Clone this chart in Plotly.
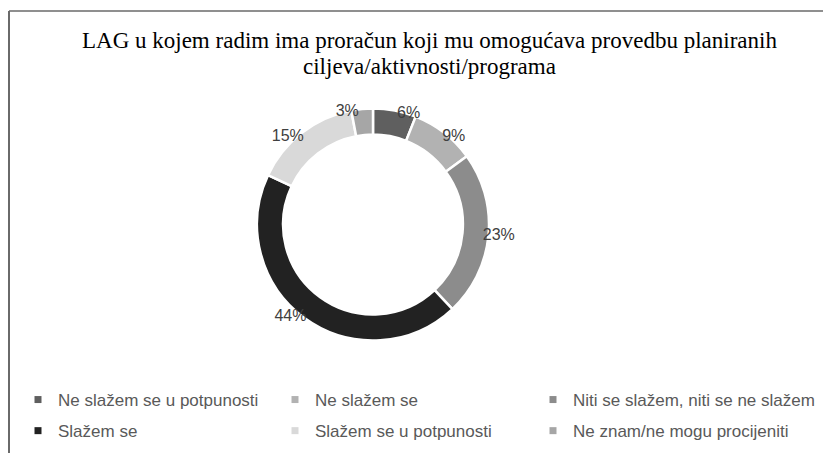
import plotly.graph_objects as go

# Survey answers, in the order they run round the ring (clockwise from the top)
categories = [
    'Ne slažem se u potpunosti',
    'Ne slažem se',
    'Niti se slažem, niti se ne slažem',
    'Slažem se',
    'Slažem se u potpunosti',
    'Ne znam/ne mogu procijeniti',
]
shares = [6, 9, 23, 44, 15, 3]
slice_colors = ['#5f5f5f', '#b2b2b2', '#8c8c8c', '#222222', '#d9d9d9', '#a6a6a6']

title_lines = ['LAG u kojem radim ima proračun koji mu omogućava provedbu planiranih',
               'ciljeva/aktivnosti/programa']

# the html page puts an 8px body margin around the figure, so the figure is
# made 8px smaller and every screen position below is shifted back by 8px
OFF = 8
W, H = 831 - OFF, 453 - OFF


def px(x):
    return (x - OFF) / W


def py(y):
    return 1 - (y - OFF) / H


cx, cy, r = 373, 224.5, 116      # ring centre and outer radius (screen px)
r_text = 106                      # radius of the invisible pie that carries the % labels


def pie_domain(radius):
    return dict(x=[px(cx - radius), px(cx + radius)],
                y=[py(cy + radius), py(cy - radius)])


fig = go.Figure()

# the ring itself
fig.add_trace(go.Pie(
    labels=categories, values=shares, sort=False, direction='clockwise', rotation=0,
    hole=0.775,
    marker=dict(colors=slice_colors, line=dict(color='white', width=2.5)),
    textinfo='none', showlegend=False,
    domain=pie_domain(r),
    hovertemplate='%{label}: %{value}%<extra></extra>',
))

# transparent copy, only used to place the percentage labels near the outer edge
fig.add_trace(go.Pie(
    labels=categories, values=shares, sort=False, direction='clockwise', rotation=0,
    hole=0.9,
    marker=dict(colors=['rgba(0,0,0,0)'] * len(shares), line=dict(width=0)),
    texttemplate='%{value}%', textposition='outside',
    textfont=dict(family='Liberation Sans', size=16, color='#404040'),
    showlegend=False, hoverinfo='skip',
    domain=pie_domain(r_text),
))

# legend: three columns of two entries, small square keys
col_text_x = [58, 315, 573]
for i, (name, col) in enumerate(zip(categories, slice_colors)):
    leg = 'legend' if i % 3 == 0 else f'legend{i % 3 + 1}'
    fig.add_trace(go.Scatter(
        x=[None], y=[None], mode='markers', name=name,
        marker=dict(symbol='square', size=7, color=col),
        legend=leg, legendgroup=name, showlegend=True,
    ))

leg_style = dict(
    orientation='v', xanchor='left', y=py(382), yanchor='top',
    font=dict(family='Liberation Sans', size=17, color='#595959'),
    tracegroupgap=6, bgcolor='rgba(0,0,0,0)', itemwidth=30,
)

fig.update_layout(
    width=W, height=H,
    margin=dict(l=0, r=0, t=0, b=0),
    paper_bgcolor='white', plot_bgcolor='white',
    xaxis=dict(visible=False), yaxis=dict(visible=False),
    legend=dict(x=px(col_text_x[0] - 40), **leg_style),
    legend2=dict(x=px(col_text_x[1] - 40), **leg_style),
    legend3=dict(x=px(col_text_x[2] - 40), **leg_style),
    annotations=[
        dict(text=t, x=px(429.5), y=py(yc), xref='paper', yref='paper',
             xanchor='center', yanchor='middle', showarrow=False,
             font=dict(family='Liberation Serif', size=23, color='black'))
        for t, yc in zip(title_lines, [40, 66])
    ],
    shapes=[
        dict(type='line', xref='paper', yref='paper', x0=px(9), x1=1, y0=py(11), y1=py(11),
             line=dict(color='#6a6a6a', width=1.5)),
        dict(type='line', xref='paper', yref='paper', x0=px(9), x1=px(9), y0=0, y1=py(11),
             line=dict(color='#6a6a6a', width=2)),
    ],
)

fig.write_html('out.html')
